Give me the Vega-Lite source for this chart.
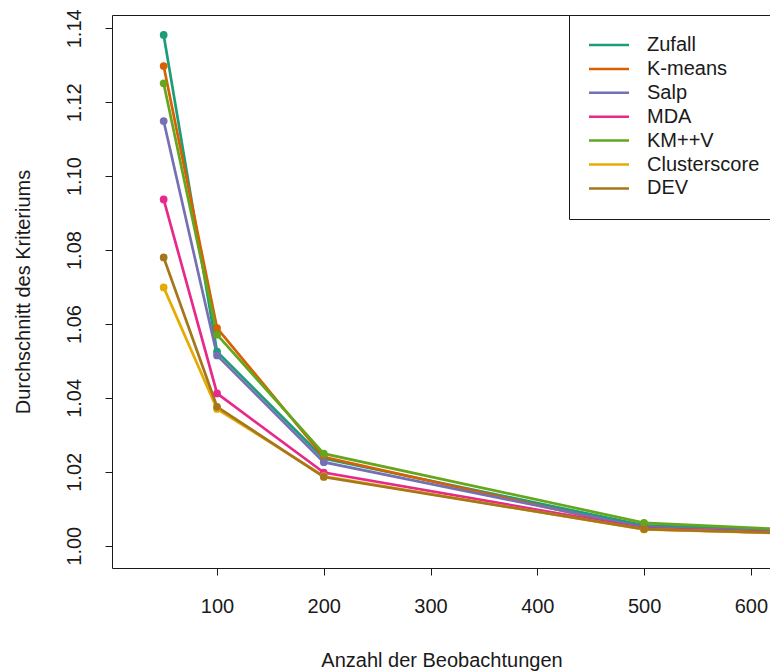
{
  "$schema": "https://vega.github.io/schema/vega-lite/v6.json",
  "width": 659,
  "height": 553,
  "autosize": {"type": "none"},
  "padding": {"left": 112, "top": 15, "right": 0, "bottom": 104},
  "background": "white",
  "config": {
    "font": "Liberation Sans",
    "view": {"stroke": "#1a1a1a", "strokeWidth": 1},
    "axis": {
      "domain": false,
      "grid": false,
      "tickColor": "#1a1a1a",
      "tickSize": 7,
      "labelColor": "#1a1a1a",
      "labelFontSize": 20,
      "titleColor": "#1a1a1a",
      "titleFontSize": 20,
      "titleFontWeight": "normal"
    }
  },
  "data": {
    "values": [
      {"n": 50, "methode": "Zufall", "wert": 1.1382},
      {"n": 100, "methode": "Zufall", "wert": 1.0525},
      {"n": 200, "methode": "Zufall", "wert": 1.0236},
      {"n": 500, "methode": "Zufall", "wert": 1.0055},
      {"n": 1000, "methode": "Zufall", "wert": 1.0002},
      {"n": 50, "methode": "K-means", "wert": 1.1298},
      {"n": 100, "methode": "K-means", "wert": 1.0589},
      {"n": 200, "methode": "K-means", "wert": 1.0240},
      {"n": 500, "methode": "K-means", "wert": 1.0045},
      {"n": 1000, "methode": "K-means", "wert": 1.0005},
      {"n": 50, "methode": "Salp", "wert": 1.1149},
      {"n": 100, "methode": "Salp", "wert": 1.0515},
      {"n": 200, "methode": "Salp", "wert": 1.0226},
      {"n": 500, "methode": "Salp", "wert": 1.0050},
      {"n": 1000, "methode": "Salp", "wert": 1.0003},
      {"n": 50, "methode": "MDA", "wert": 1.0937},
      {"n": 100, "methode": "MDA", "wert": 1.0412},
      {"n": 200, "methode": "MDA", "wert": 1.0198},
      {"n": 500, "methode": "MDA", "wert": 1.0047},
      {"n": 1000, "methode": "MDA", "wert": 1.0004},
      {"n": 50, "methode": "KM++V", "wert": 1.1251},
      {"n": 100, "methode": "KM++V", "wert": 1.0571},
      {"n": 200, "methode": "KM++V", "wert": 1.0249},
      {"n": 500, "methode": "KM++V", "wert": 1.0062},
      {"n": 1000, "methode": "KM++V", "wert": 0.9995},
      {"n": 50, "methode": "Clusterscore", "wert": 1.0699},
      {"n": 100, "methode": "Clusterscore", "wert": 1.0370},
      {"n": 200, "methode": "Clusterscore", "wert": 1.0188},
      {"n": 500, "methode": "Clusterscore", "wert": 1.0044},
      {"n": 1000, "methode": "Clusterscore", "wert": 1.0005},
      {"n": 50, "methode": "DEV", "wert": 1.0780},
      {"n": 100, "methode": "DEV", "wert": 1.0376},
      {"n": 200, "methode": "DEV", "wert": 1.0186},
      {"n": 500, "methode": "DEV", "wert": 1.0045},
      {"n": 1000, "methode": "DEV", "wert": 1.0005}
    ]
  },
  "encoding": {
    "x": {
      "field": "n",
      "type": "quantitative",
      "scale": {"domain": [1.6, 618.9], "nice": false, "zero": false},
      "axis": {
        "values": [100, 200, 300, 400, 500, 600],
        "format": "d",
        "labelPadding": 21,
        "title": "Anzahl der Beobachtungen",
        "titlePadding": 34
      }
    },
    "y": {
      "field": "wert",
      "type": "quantitative",
      "scale": {"domain": [0.99397, 1.1436], "nice": false, "zero": false},
      "axis": {
        "values": [1.0, 1.02, 1.04, 1.06, 1.08, 1.1, 1.12, 1.14],
        "format": ".2f",
        "labelAngle": -90,
        "labelAlign": "center",
        "labelBaseline": "alphabetic",
        "labelPadding": 25,
        "title": "Durchschnitt des Kriteriums",
        "titlePadding": 31
      }
    },
    "color": {
      "field": "methode",
      "type": "nominal",
      "sort": ["Zufall", "K-means", "Salp", "MDA", "KM++V", "Clusterscore", "DEV"],
      "scale": {
        "domain": ["Zufall", "K-means", "Salp", "MDA", "KM++V", "Clusterscore", "DEV"],
        "range": ["#1B9E77", "#D95F02", "#7570B3", "#E7298A", "#66A61E", "#E6AB02", "#A6761D"]
      }
    }
  },
  "layer": [
    {
      "mark": {"type": "line", "strokeWidth": 2.7, "clip": true},
      "encoding": {
        "color": {
          "field": "methode",
          "type": "nominal",
          "sort": ["Zufall", "K-means", "Salp", "MDA", "KM++V", "Clusterscore", "DEV"],
          "scale": {
            "domain": ["Zufall", "K-means", "Salp", "MDA", "KM++V", "Clusterscore", "DEV"],
            "range": ["#1B9E77", "#D95F02", "#7570B3", "#E7298A", "#66A61E", "#E6AB02", "#A6761D"]
          },
          "legend": {
            "orient": "none",
            "legendX": 457,
            "legendY": 0,
            "title": null,
            "fillColor": "white",
            "strokeColor": "#1a1a1a",
            "padding": 20,
            "symbolType": "M-4,0H4",
            "symbolSize": 100,
            "symbolOffset": 10,
            "symbolStrokeWidth": 2.5,
            "labelFontSize": 20,
            "labelColor": "#1a1a1a",
            "labelOffset": 28,
            "rowPadding": 3.9,
            "labelLimit": 300
          }
        }
      }
    },
    {
      "mark": {"type": "point", "filled": true, "size": 60, "opacity": 1, "clip": true},
      "encoding": {
        "color": {
          "field": "methode",
          "type": "nominal",
          "legend": null
        }
      }
    }
  ]
}
